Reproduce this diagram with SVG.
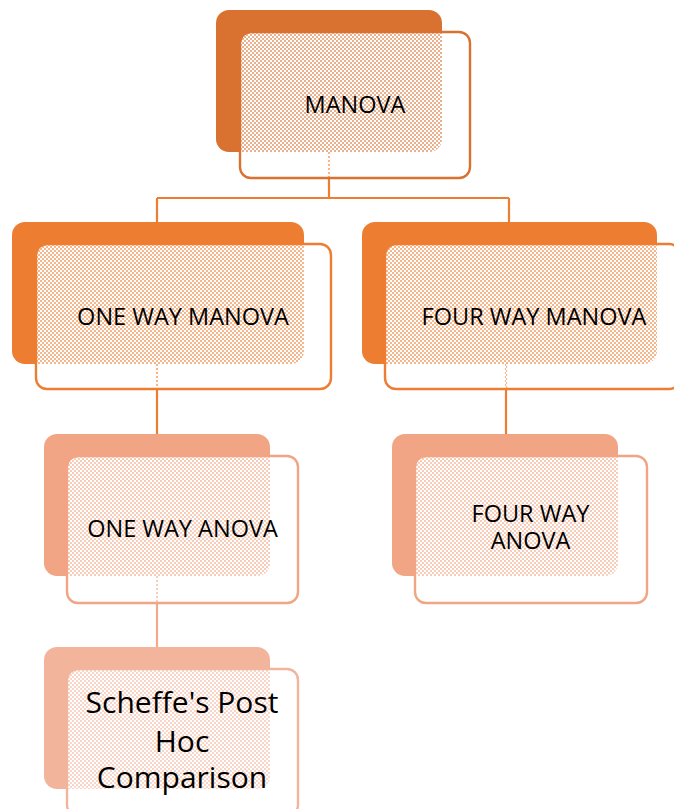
<svg xmlns="http://www.w3.org/2000/svg" width="674" height="809" viewBox="0 0 674 809">
  <style>
    .lbl { font-family: "Open Sans", "Noto Sans", "Liberation Sans", sans-serif; font-size: 23.5px; fill: #000; text-anchor: middle; }
    .big { font-size: 30px; }
    .link { fill: none; stroke-width: 2.2; }
    .front { fill: url(#screen); stroke-width: 2.4; }
  </style>
  <defs>
    <!-- white screen with a staggered grid of see-through holes -->
    <pattern id="screen" width="4" height="4" patternUnits="userSpaceOnUse">
      <path d="M0 0H4V4H0Z M0.25 0.25h1.5v1.5h-1.5Z M2.25 2.25h1.5v1.5h-1.5Z" fill="#fff" fill-rule="evenodd"/>
    </pattern>
  </defs>
  <rect width="674" height="809" fill="#fff"/>

  <!-- connectors -->
  <g id="connectors">
    <path class="link" stroke="#ED7D31" d="M329 150V198M157 198H509M157 198V222M509 198V222"/>
    <path class="link" stroke="#ED7D31" d="M157 360V434"/>
    <path class="link" stroke="#ED7D31" d="M506 360V434"/>
    <path class="link" stroke="#F4A989" d="M157 575V647"/>
  </g>

  <g id="manova">
    <rect x="216" y="10" width="226" height="142" rx="13" fill="#D97130"/>
    <rect class="front" x="240" y="32" width="230" height="146" rx="11" stroke="#D97130"/>
    <text class="lbl" x="355" y="113">MANOVA</text>
  </g>

  <g id="one-way-manova">
    <rect x="12" y="222" width="292" height="142" rx="13" fill="#ED7D31"/>
    <rect class="front" x="36" y="244" width="295" height="145" rx="11" stroke="#ED7D31"/>
    <text class="lbl" x="183" y="325">ONE WAY MANOVA</text>
  </g>

  <g id="four-way-manova">
    <rect x="362" y="222" width="295" height="142" rx="13" fill="#ED7D31"/>
    <rect class="front" x="385" y="244" width="295" height="145" rx="11" stroke="#ED7D31"/>
    <text class="lbl" x="534" y="325">FOUR WAY MANOVA</text>
  </g>

  <g id="one-way-anova">
    <rect x="44" y="434" width="226" height="142" rx="13" fill="#F1A584"/>
    <rect class="front" x="67" y="456" width="231" height="147" rx="11" stroke="#F1A584"/>
    <text class="lbl" x="182.5" y="537">ONE WAY ANOVA</text>
  </g>

  <g id="four-way-anova">
    <rect x="392" y="434" width="226" height="142" rx="13" fill="#F1A584"/>
    <rect class="front" x="415" y="456" width="232" height="147" rx="11" stroke="#F1A584"/>
    <text class="lbl" x="530.5" y="522">FOUR WAY</text>
    <text class="lbl" x="530.5" y="549">ANOVA</text>
  </g>

  <g id="scheffe">
    <rect x="44" y="647" width="226" height="142" rx="13" fill="#F3B49C"/>
    <rect class="front" x="67" y="669" width="231" height="147" rx="11" stroke="#F3B49C"/>
    <text class="lbl big" x="182" y="713">Scheffe's Post</text>
    <text class="lbl big" x="182" y="752">Hoc</text>
    <text class="lbl big" x="182" y="788">Comparison</text>
  </g>
</svg>
